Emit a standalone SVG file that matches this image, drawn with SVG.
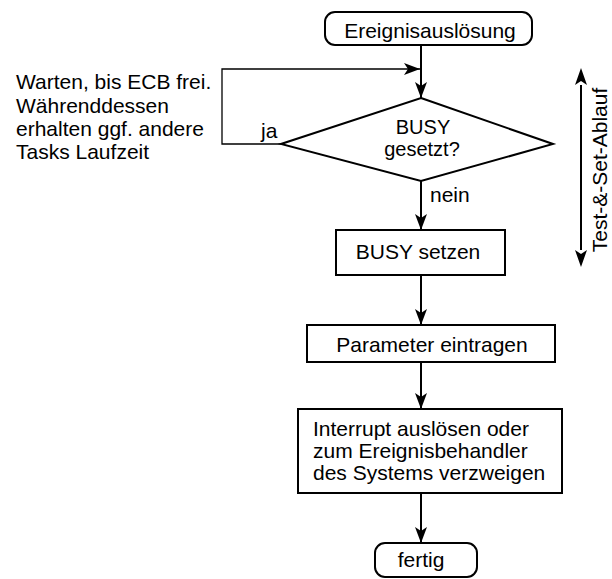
<svg xmlns="http://www.w3.org/2000/svg" width="612" height="579" viewBox="0 0 612 579">
<style>
text{font-family:"Liberation Sans",Arial,sans-serif;font-size:21px;fill:#000}
.c{text-anchor:middle}
.d{font-size:20px}
.b{fill:#fff;stroke:#000;stroke-width:2}
.l{fill:none;stroke:#000;stroke-width:2}
.t{fill:none;stroke:#000;stroke-width:1.3}
</style>
<defs>
<marker id="a" markerWidth="16" markerHeight="12" refX="16" refY="6" orient="auto" markerUnits="userSpaceOnUse">
<path d="M0,0 L16,6 L0,12 L4,6 z" fill="#000"/>
</marker>
</defs>
<g id="connectors">
<line class="l" x1="421" y1="45" x2="421" y2="98" marker-end="url(#a)"/>
<polyline class="t" points="281,144 222,144 222,69 420,69" marker-end="url(#a)"/>
<line class="l" x1="421" y1="181" x2="421" y2="230" marker-end="url(#a)"/>
<line class="l" x1="421" y1="275" x2="421" y2="325" marker-end="url(#a)"/>
<line class="l" x1="421" y1="362" x2="421" y2="409" marker-end="url(#a)"/>
<line class="l" x1="421" y1="493" x2="421" y2="543" marker-end="url(#a)"/>
<line class="l" x1="581" y1="85" x2="581" y2="250"/>
<path d="M581,68 L587,85 L581,81 L575,85 z M581,267 L587,250 L581,254 L575,250 z" fill="#000"/>
<text x="261" y="138">ja</text>
<text x="430" y="202">nein</text>
</g>
<g id="start">
<rect class="b" x="325" y="12" width="207" height="33" rx="10"/>
<text class="c" x="430" y="38">Ereignisauslösung</text>
</g>
<g id="note">
<text x="16" y="89">Warten, bis ECB frei.</text>
<text x="16" y="113">Währenddessen</text>
<text x="16" y="136">erhalten ggf. andere</text>
<text x="16" y="159">Tasks Laufzeit</text>
</g>
<g id="decision">
<polygon class="b" points="421,98 553,144 421,181 281,144"/>
<text class="c d" x="423" y="134">BUSY</text>
<text class="c d" x="422" y="156">gesetzt?</text>
</g>
<g id="busy">
<rect class="b" x="336" y="230" width="169" height="45"/>
<text class="c" x="418" y="259">BUSY setzen</text>
</g>
<g id="param">
<rect class="b" x="307" y="325" width="248" height="37"/>
<text class="c" x="432" y="352">Parameter eintragen</text>
</g>
<g id="interrupt">
<rect class="b" x="298" y="409" width="264" height="84"/>
<text x="313" y="436">Interrupt auslösen oder</text>
<text x="313" y="458">zum Ereignisbehandler</text>
<text x="313" y="480">des Systems verzweigen</text>
</g>
<g id="end">
<rect class="b" x="375" y="543" width="102" height="34" rx="10"/>
<text class="c" x="421" y="567">fertig</text>
</g>
<g id="range">
<text class="c" transform="translate(607,170) rotate(-90)">Test-&amp;-Set-Ablauf</text>
</g>
</svg>
